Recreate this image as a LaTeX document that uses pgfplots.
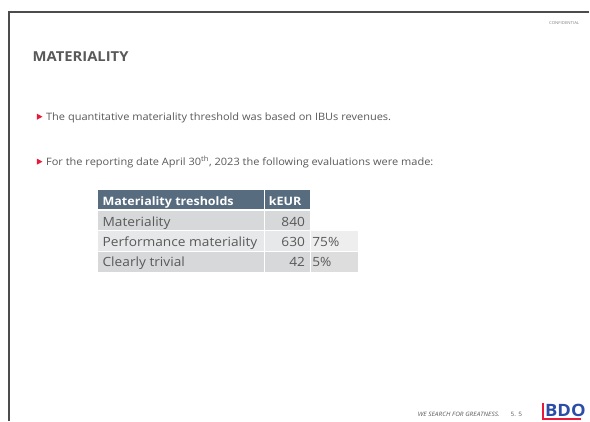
\documentclass[border=0pt]{standalone}
\usepackage{pgfplots}
\pgfplotsset{compat=1.18}
\usepackage{fontspec}
\setmainfont[FakeStretch=1.08]{Open Sans}
\definecolor{txt}{HTML}{595959}
\definecolor{hdr}{HTML}{586C80}
\definecolor{rowa}{HTML}{D6D8DA}
\definecolor{rowb}{HTML}{E7E8E9}
\definecolor{pcta}{HTML}{EEEEEE}
\definecolor{pctb}{HTML}{DDDDDD}
\definecolor{bdored}{HTML}{E81A3B}
\definecolor{bdoblue}{HTML}{2B4DA8}
\newcommand{\fs}[1]{\fontsize{#1bp}{#1bp}\selectfont}
\begin{document}
\begin{tikzpicture}
\begin{axis}[width=590bp,height=421bp,scale only axis,
  xmin=0,xmax=590,ymin=0,ymax=421,y dir=reverse,
  axis lines=none,clip=false]
\fill[white] (axis cs:0,0) rectangle (axis cs:590,421);
\draw[line width=1.2bp, black!70] (axis cs:590,12) -- (axis cs:9,12) -- (axis cs:9,421);
% confidential
\node[anchor=base east,inner sep=0,text=gray,font=\fs{4}] at (axis cs:580,24.5) {CONFIDENTIAL};
% title
\node[anchor=base west,inner sep=0,text=txt,font=\fs{13.7}\bfseries] at (axis cs:32.5,61.5) {MATERIALITY};
% bullets
\fill[bdored] (axis cs:37,113.8) -- (axis cs:42.5,116.8) -- (axis cs:37,119.8) -- cycle;
\node[anchor=base west,inner sep=0,text=txt,font=\fs{10.2}] at (axis cs:46,120.5) {The quantitative materiality threshold was based on IBUs revenues.};
\fill[bdored] (axis cs:37,158.8) -- (axis cs:42.5,161.8) -- (axis cs:37,164.8) -- cycle;
\node[anchor=base west,inner sep=0,text=txt,font=\fs{10.2}] at (axis cs:46,165.5) {For the reporting date April 30\textsuperscript{th}, 2023 the following evaluations were made:};
% table cells
\fill[hdr] (axis cs:98,190) rectangle (axis cs:264,209.5);
\fill[hdr] (axis cs:265.5,190) rectangle (axis cs:310,209.5);
\fill[rowa] (axis cs:98,211) rectangle (axis cs:264,230.5);
\fill[rowa] (axis cs:265.5,211) rectangle (axis cs:310,230.5);
\fill[rowb] (axis cs:98,231.5) rectangle (axis cs:264,251);
\fill[rowb] (axis cs:265.5,231.5) rectangle (axis cs:310,251);
\fill[pcta] (axis cs:311,231.5) rectangle (axis cs:358,251);
\fill[rowa] (axis cs:98,252) rectangle (axis cs:264,272);
\fill[rowa] (axis cs:265.5,252) rectangle (axis cs:310,272);
\fill[pctb] (axis cs:311,252) rectangle (axis cs:358,272);
% header text
\node[anchor=base west,inner sep=0,text=white,font=\fs{11.6}\bfseries] at (axis cs:102.5,206) {Materiality tresholds};
\node[anchor=base west,inner sep=0,text=white,font=\fs{11.6}\bfseries] at (axis cs:269,206) {kEUR};
% row labels
\node[anchor=base west,inner sep=0,text=txt,font=\fs{12.7}] at (axis cs:102.5,226.5) {Materiality};
\node[anchor=base west,inner sep=0,text=txt,font=\fs{12.7}] at (axis cs:102.5,246.5) {Performance materiality};
\node[anchor=base west,inner sep=0,text=txt,font=\fs{12.7}] at (axis cs:102.5,267) {Clearly trivial};
% values
\addplot[only marks,mark=none,point meta=explicit symbolic,nodes near coords,
  nodes near coords style={anchor=base east,inner sep=0,text=txt,font=\fs{12.7}}]
  table[meta=v] {
x y v
305.5 226.5 840
305.5 246.5 630
305.5 267 42
};
\addplot[only marks,mark=none,point meta=explicit symbolic,nodes near coords={\pgfplotspointmeta\%},
  nodes near coords style={anchor=base west,inner sep=0,text=txt,font=\fs{12.7}}]
  table[meta=p] {
x y p
312.5 246.5 75
312.5 267 5
};
% footer
\node[anchor=base west,inner sep=0,text=txt,font=\fs{6}\itshape] at (axis cs:418,416.7) {WE SEARCH FOR GREATNESS.};
\node[anchor=base west,inner sep=0,text=txt,font=\fs{6}] at (axis cs:511,416.7) {5. 5};
\node[anchor=base west,inner sep=0,text=bdoblue,font=\fs{17}\bfseries] at (axis cs:545.5,417) {BDO};
\fill[bdored] (axis cs:543,403) rectangle (axis cs:545,420);
\fill[bdored] (axis cs:543,418.5) rectangle (axis cs:582,420);
\end{axis}
\end{tikzpicture}
\end{document}
